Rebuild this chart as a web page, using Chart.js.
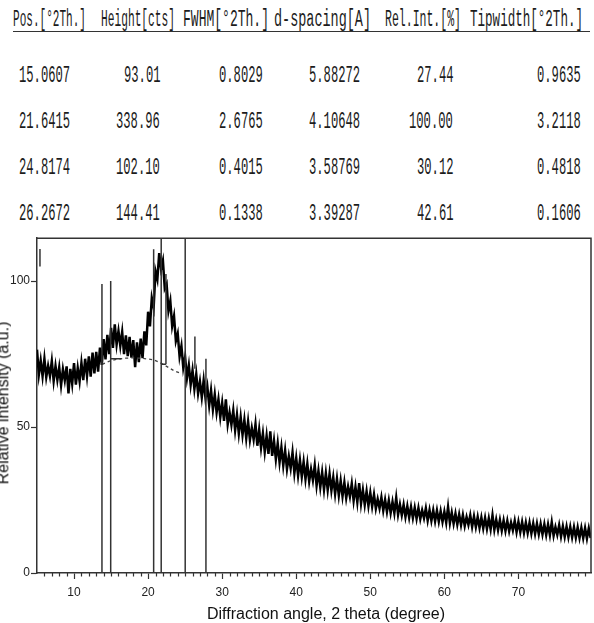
<!DOCTYPE html>
<html><head><meta charset="utf-8">
<script src="https://cdn.jsdelivr.net/npm/chart.js@4/dist/chart.umd.min.js"></script>
<style>
html,body{margin:0;padding:0;background:#fff;width:594px;height:623px;overflow:hidden;}
#wrap{position:relative;width:594px;height:623px;}
.cell{position:absolute;font-family:"Liberation Mono","DejaVu Sans Mono",monospace;font-size:23px;line-height:23px;color:#1c1c1c;white-space:nowrap;display:inline-block;}
#rule{position:absolute;left:13px;width:577px;top:31px;height:1px;background:#333;}
#chartBox{position:absolute;left:0;top:230px;width:594px;height:393px;}
#ytitle{position:absolute;font-family:"Liberation Sans",Arial,sans-serif;font-size:16px;line-height:16px;color:#111;white-space:nowrap;}
#xtitle{position:absolute;font-family:"Liberation Sans",Arial,sans-serif;font-size:16px;line-height:16px;color:#111;white-space:nowrap;}
</style></head>
<body><div id="wrap">
<div id="rule"></div>
<div id="chartBox"><canvas id="c" width="594" height="393"></canvas></div>
<div id="ytitle">Relative intensity (a.u.)</div>
<div id="xtitle">Diffraction angle, 2 theta (degree)</div>
</div>
<script>
// ---- table data ----
const tableHeaders = ['Pos.[°2Th.]','Height[cts]','FWHM[°2Th.]','d-spacing[A]','Rel.Int.[%]','Tipwidth[°2Th.]'];
const posValues = ['15.0607','21.6415','24.8174','26.2672'];
const heightValues = ['93.01','338.96','102.10','144.41'];
const fwhmValues = ['0.8029','2.6765','0.4015','0.1338'];
const dSpacingValues = ['5.88272','4.10648','3.58769','3.39287'];
const relIntValues = ['27.44','100.00','30.12','42.61'];
const tipWidthValues = ['0.9635','3.2118','0.4818','0.1606'];

// ---- chart data ----
const startAngle = 5;
const stepAngle = 0.25;
const intensity = [
76.5,68.0,72.8,67.4, 73.4,67.1,71.0,67.5, 72.6,65.8,70.9,66.2, 70.5,64.3,69.8,66.0,
70.8,61.5,69.9,64.8, 71.9,64.5,70.2,65.7, 72.0,66.1,73.4,67.5, 74.2,67.3,75.5,68.4,
75.8,69.0,77.2,71.3, 80.1,73.2,81.6,75.0, 84.0,77.1,85.2,78.3, 82.9,77.8,82.6,75.0,
81.4,74.3,80.9,73.8, 79.8,70.5,79.0,72.2, 80.3,73.6,82.8,78.0, 89.5,84.5,94.2,91.0,
103.4,100.6,109.6,104.2, 107.0,97.5,99.0,89.8, 93.2,84.6,88.0,79.5, 82.0,74.2,77.8,70.4,
74.0,66.8,71.2,64.5, 69.4,63.0,68.1,61.5, 65.6,60.2,66.0,59.9, 63.8,57.4,62.6,56.0,
61.2,55.0,59.5,53.4, 58.3,52.1,59.5,51.0, 55.0,50.8,55.7,48.9, 54.2,47.8,53.4,47.3,
52.5,46.2,51.9,45.6, 49.7,45.8,51.0,43.6, 49.2,42.9,47.8,41.5, 47.0,40.8,48.5,40.1,
45.3,39.0,44.4,37.9, 43.1,36.8,42.0,35.6, 40.0,35.9,41.3,34.2, 39.4,33.4,38.7,33.0,
38.1,32.2,37.4,31.4, 35.6,31.8,36.9,30.0, 35.0,29.4,34.5,28.6, 34.2,28.5,34.0,28.3,
32.8,27.1,32.3,26.6, 31.6,26.3,31.0,25.7, 29.6,26.2,30.6,24.8, 29.5,24.3,30.8,23.8,
28.4,23.4,28.0,23.0, 27.5,22.8,26.9,22.1, 25.3,22.2,25.9,21.4, 25.1,21.0,24.9,20.6,
24.4,20.5,25.8,20.0, 23.5,19.8,23.4,19.2, 22.9,19.0,22.7,18.8, 22.4,18.6,22.3,18.5,
21.5,18.8,22.2,18.0, 21.6,17.9,21.5,17.7, 21.4,17.6,21.2,17.5, 21.0,17.3,22.6,17.1,
20.7,16.9,20.4,16.6, 20.1,16.4,19.9,16.1, 19.2,16.5,19.8,15.8, 19.4,15.7,19.2,15.5,
19.0,15.3,18.9,15.1, 18.7,15.0,19.8,14.8, 18.3,14.7,18.2,14.5, 18.0,14.4,17.9,14.3,
17.3,14.6,17.9,14.0, 17.6,14.0,17.5,13.8, 17.3,13.7,17.2,13.5, 17.0,13.4,16.9,13.3,
16.8,13.2,16.7,13.0, 16.6,13.0,17.4,12.8, 15.8,13.1,16.4,12.5, 16.0,12.4,15.9,12.3,
15.8,12.2,15.7,12.1, 15.6,12.0,15.5,11.9, 15.4,11.8,15.3,12.0
];
const backgroundAngles = [13.8,15,16,17,18,19,20,20.75,21.5,22.5,23.5,24.5];
const backgroundLevels = [71.5,72.8,73.3,73.6,73.7,73.6,73.3,73.0,72.2,70.8,69.3,68.3];
// peak-marker segments: start angle/intensity, end angle/intensity
const markerX1 = [5.4, 13.77, 14.95, 20.75, 21.77, 22.41, 21.77, 25.01, 26.32, 27.81, 14.95];
const markerY1 = [105, 0, 0, 0, 0, 71.5, 71.5, 0, 70, 0, 73.4];
const markerX2 = [5.4, 13.77, 14.95, 20.75, 21.77, 22.41, 22.41, 25.01, 26.32, 27.81, 16.4];
const markerY2 = [111, 99, 100, 110.9, 120, 102.4, 71.5, 120, 81, 73.4, 73.4];
const xTickValues = [10,20,30,40,50,60,70];
const yTickValues = [0,50,100];

// ---- table layout ----
const headerBoxes = [[13,86],[101,175],[183,269],[274,371],[385,461],[470,583]];
const colRight = [70,160,263,360,453,581];
const charW = 7.3;
const headerCY = 19;
const rowCY = [75,121,167,213];
const wrap = document.getElementById('wrap');
function place(text, left, width, cy){
  const s = document.createElement('span');
  s.className='cell'; s.textContent=text;
  wrap.appendChild(s);
  const w = s.getBoundingClientRect().width;
  s.style.left = left+'px';
  s.style.top = (cy-10)+'px';
  s.style.transformOrigin='0 50%';
  s.style.transform='scaleX('+(width/w)+')';
}
tableHeaders.forEach((h,i)=>place(h, headerBoxes[i][0], headerBoxes[i][1]-headerBoxes[i][0], headerCY));
const cols=[posValues,heightValues,fwhmValues,dSpacingValues,relIntValues,tipWidthValues];
cols.forEach((col,ci)=>col.forEach((v,ri)=>{
  const w=v.length*charW; place(v, colRight[ci]-w, w, rowCY[ri]);
}));

// axis titles
const yt=document.getElementById('ytitle');
const ytw=yt.getBoundingClientRect().width;
yt.style.left=(3-ytw/2)+'px'; yt.style.top=(403-8)+'px';
yt.style.transform='rotate(-90deg)';
const xt=document.getElementById('xtitle');
const xtw=xt.getBoundingClientRect().width;
xt.style.left=(326-xtw/2)+'px'; xt.style.top=(614-8)+'px';

// ---- chart ----
const mainPoints = intensity.map((v,i)=>({x:startAngle+i*stepAngle,y:v}));
const bgPoints = backgroundAngles.map((a,i)=>({x:a,y:backgroundLevels[i]}));
const datasets = [];
markerX1.forEach((x1,i)=>{
  datasets.push({data:[{x:x1,y:markerY1[i]},{x:markerX2[i],y:markerY2[i]}],borderColor:'#333',borderWidth:1.5,pointRadius:0,fill:false,clip:0});
});
datasets.push({data:bgPoints,borderColor:'#444',borderWidth:1.3,borderDash:[3,3],pointRadius:0,fill:false});
datasets.push({data:mainPoints,borderColor:'#000',borderWidth:2.5,pointRadius:0,fill:false,tension:0});

const frame = {id:'frame', afterDatasetsDraw(chart){
  const {ctx, chartArea:a, scales:{x}} = chart;
  ctx.save();
  ctx.strokeStyle='#333'; ctx.lineWidth=1.5;
  ctx.beginPath(); ctx.moveTo(a.left,a.top); ctx.lineTo(a.right,a.top); ctx.lineTo(a.right,a.bottom); ctx.stroke();
  ctx.lineWidth=1.2;
  ctx.beginPath();
  for(let v=6; v<80; v++){
    if(v%10===0) continue;
    const px=Math.round(x.getPixelForValue(v))+0.5;
    ctx.moveTo(px,a.bottom); ctx.lineTo(px,a.bottom+3.5);
  }
  ctx.stroke();
  ctx.restore();
}};

new Chart(document.getElementById('c'),{
  type:'line',
  data:{datasets},
  options:{
    responsive:false, animation:false,
    layout:{padding:{top:7,right:3,left:0,bottom:0}},
    plugins:{legend:{display:false},tooltip:{enabled:false}},
    scales:{
      x:{type:'linear',min:5,max:79.8,
        afterFit(s){s.height=50;},
        afterBuildTicks(s){s.ticks=xTickValues.map(v=>({value:v}));},
        grid:{drawOnChartArea:false,drawTicks:true,tickLength:6,tickColor:'#333',tickWidth:1.2},
        border:{color:'#333',width:1.5},
        ticks:{color:'#222',font:{family:'Liberation Sans',size:12},padding:6,maxRotation:0,autoSkip:false}
      },
      y:{type:'linear',min:0,max:114.7,
        afterFit(s){s.width=37;},
        afterBuildTicks(s){s.ticks=yTickValues.map(v=>({value:v}));},
        grid:{drawOnChartArea:false,drawTicks:true,tickLength:6,tickColor:'#333',tickWidth:1.2},
        border:{color:'#333',width:1.5},
        ticks:{color:'#222',font:{family:'Liberation Sans',size:12},padding:1,autoSkip:false}
      }
    }
  },
  plugins:[frame]
});
</script>
</body></html>
